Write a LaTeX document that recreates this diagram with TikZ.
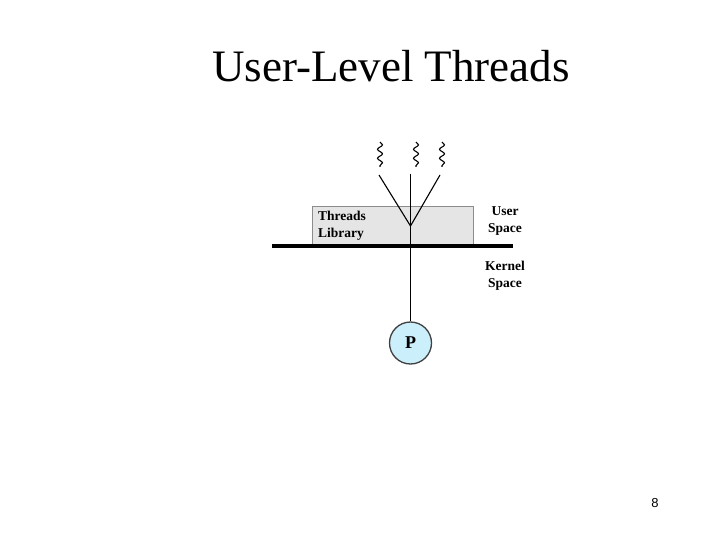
\documentclass[tikz,border=0pt]{standalone}
\usepackage{fontspec}
\setmainfont{Liberation Serif}
\setsansfont{Liberation Sans}
\usetikzlibrary{decorations.pathmorphing}
\begin{document}
\begin{tikzpicture}
[x=1pt,y=-1pt,
  procdecorate/.style={shape=circle,minimum size=42pt,inner sep=0pt,draw=black!75,
    fill=cyan!20!white,line width=1.3pt,font=\fontsize{18}{18}\selectfont\bfseries},%
  linedecorate/.style={-,line width=1.1pt},%
  threaddecorate/.style={-,line width=1.1pt,decorate,
    decoration={snake,segment length=9pt,amplitude=2.5pt}},%
  labeldecorate/.style={font=\fontsize{13.5}{17}\selectfont\bfseries,inner sep=0pt}]
\useasboundingbox (0,0) rectangle (720,540);
% title and page number
\node (title) at (391,66) {\fontsize{45}{45}\selectfont User-Level Threads};
\node (page) at (655,503) {\sffamily\fontsize{13}{13}\selectfont 8};
% library box and boundary
\draw[draw=black!45,fill=black!10,line width=0.8pt] (312,246) rectangle (473,206);
\node (lib) [labeldecorate,anchor=west,align=left] at (318,226) {Threads\\Library};
\coordinate (bl) at (272,246);
\coordinate (br) at (513,246);
\draw[line width=4.5pt] (bl) -- (br);
\node (user) [labeldecorate,align=center] at (505,221) {User\\Space};
\node (kernel) [labeldecorate,align=center] at (505,276) {Kernel\\Space};
% threads
\coordinate (t1) at (380,142);
\coordinate (t1e) at (380,167);
\coordinate (t2) at (416,142);
\coordinate (t2e) at (416,167);
\coordinate (t3) at (442,142);
\coordinate (t3e) at (442,167);
\coordinate (a1) at (379,175);
\coordinate (a2) at (410.5,174);
\coordinate (a3) at (440,175);
\coordinate (v) at (410.5,226);
% process
\node (proc) at (410.5,343) [procdecorate] {P};
% edges or lines
\draw[threaddecorate] (t1) -- (t1e);
\draw[threaddecorate] (t2) -- (t2e);
\draw[threaddecorate] (t3) -- (t3e);
\path
(a1) edge[linedecorate] (v)
(a3) edge[linedecorate] (v)
(a2) edge[linedecorate] (proc);
\end{tikzpicture}
\end{document}
